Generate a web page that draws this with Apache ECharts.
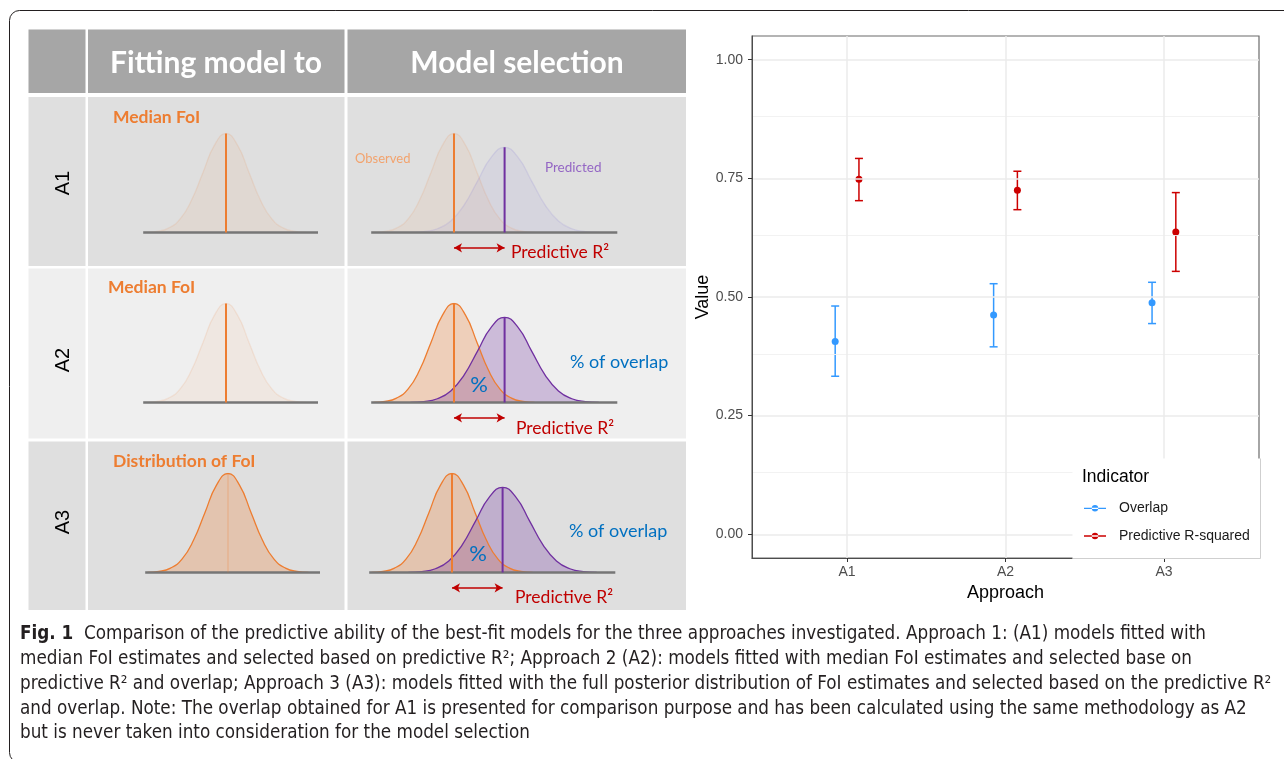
<!DOCTYPE html>
<html>
<head>
<meta charset="utf-8">
<script src="https://cdn.jsdelivr.net/npm/echarts@6/dist/echarts.min.js"></script>
<style>
  html, body { margin: 0; padding: 0; background: #fff; }
  #chart { width: 1284px; height: 759px; }
</style>
</head>
<body>
<div id="chart"></div>
<script>
// ---- right panel: indicator values per approach ----
const approaches = ['A1', 'A2', 'A3'];
const yTicks = [0, 0.25, 0.5, 0.75, 1];
const yMinorTicks = [0.125, 0.375, 0.625, 0.875];
const overlapMean = [0.406, 0.462, 0.488];
const overlapLow = [0.333, 0.395, 0.444];
const overlapHigh = [0.481, 0.528, 0.531];
const r2Mean = [0.748, 0.725, 0.637];
const r2Low = [0.703, 0.684, 0.554];
const r2High = [0.792, 0.765, 0.720];

// ---- left panel: schematic distributions ----
const headers = ['Fitting model to', 'Model selection'];
const rowLabels = ['A1', 'A2', 'A3'];
const fitLabels = ['Median FoI', 'Median FoI', 'Distribution of FoI'];
// bell profile (height relative to peak, x in sd)
const bellZ = [-3.5, -3, -2.5, -2, -1.5, -1, -0.5, 0, 0.5, 1, 1.5, 2, 2.5, 3, 3.5];
const bellShape = [0.002, 0.011, 0.044, 0.135, 0.325, 0.607, 0.882, 1, 0.882, 0.607, 0.325, 0.135, 0.044, 0.011, 0.002];
const predictedShift = 2.2;   // predicted median vs observed median
const predictedSpread = 1.17;
const predictedPeak = 0.86;

const captionLines = [
  '{b|Fig. 1}  Comparison of the predictive ability of the best-fit models for the three approaches investigated. Approach 1: (A1) models fitted with',
  'median FoI estimates and selected based on predictive R²; Approach 2 (A2): models fitted with median FoI estimates and selected base on',
  'predictive R² and overlap; Approach 3 (A3): models fitted with the full posterior distribution of FoI estimates and selected based on the predictive R²',
  'and overlap. Note: The overlap obtained for A1 is presented for comparison purpose and has been calculated using the same methodology as A2',
  'but is never taken into consideration for the model selection'
];

const BLUE = '#3399ff';
const RED = '#cc0000';
const ORANGE = '#ed7d31';
const PURPLE = '#7030a0';
const DARKRED = '#c00000';
const SANS = '"Liberation Sans", Arial, sans-serif';
const DIAG = 'Lato, "Open Sans", sans-serif';
const CAP = '"DejaVu Sans Condensed", "Liberation Sans Narrow", "Liberation Sans", sans-serif';

const chart = echarts.init(document.getElementById('chart'), null, { renderer: 'canvas' });

// fit caption font size to the line widths of the original
const measureCtx = document.createElement('canvas').getContext('2d');
function lineWidthAt(line, size) {
  let w = 0;
  let rest = line;
  const m = line.match(/^\{b\|(.*?)\}/);
  if (m) {
    measureCtx.font = 'bold ' + size + 'px ' + CAP;
    w += measureCtx.measureText(m[1]).width;
    rest = line.slice(m[0].length);
  }
  measureCtx.font = size + 'px ' + CAP;
  return w + measureCtx.measureText(rest).width;
}
const captionRight = [1211, 1106, 1277, 1238, 538];
const captionY = [634, 659, 684, 709, 733];
const fitLines = [0, 2, 3];
const captionSize = fitLines.reduce((s, i) => s + 100 * (captionRight[i] - 20) / lineWidthAt(captionLines[i], 100), 0) / fitLines.length;

function errorBar(params, api) {
  const x = api.value(0);
  const lo = api.coord([x, api.value(1)]);
  const hi = api.coord([x, api.value(2)]);
  const cap = 4;
  const style = { stroke: api.visual('color'), lineWidth: 1.5 };
  return {
    type: 'group',
    children: [
      { type: 'line', shape: { x1: lo[0], y1: lo[1], x2: hi[0], y2: hi[1] }, style },
      { type: 'line', shape: { x1: lo[0] - cap, y1: lo[1], x2: lo[0] + cap, y2: lo[1] }, style },
      { type: 'line', shape: { x1: hi[0] - cap, y1: hi[1], x2: hi[0] + cap, y2: hi[1] }, style }
    ]
  };
}

const dodge = 0.075;
const grids = [{ left: 752, top: 36, right: 25, bottom: 201 }];
const xAxes = [{
  type: 'value', min: 0.4, max: 3.6, gridIndex: 0, z: 6,
  name: 'Approach', nameLocation: 'middle', nameGap: 25,
  nameTextStyle: { fontSize: 18, color: '#000', fontFamily: SANS },
  axisLine: { show: true, onZero: false, lineStyle: { color: '#4d4d4d', width: 1 } },
  axisTick: { show: true, length: 4, customValues: [1, 2, 3], lineStyle: { color: '#333' } },
  axisLabel: { customValues: [1, 2, 3], formatter: v => approaches[Math.round(v) - 1] || '',
    color: '#4d4d4d', fontSize: 14, margin: 7, fontFamily: SANS },
  splitLine: { show: false }
}];
const yAxes = [{
  type: 'value', min: -0.05, max: 1.05, gridIndex: 0, z: 6,
  name: 'Value', nameLocation: 'middle', nameGap: 40, nameRotate: 90,
  nameTextStyle: { fontSize: 18, color: '#000', fontFamily: SANS },
  axisLine: { show: true, onZero: false, lineStyle: { color: '#4d4d4d', width: 1 } },
  axisTick: { show: true, length: 4, customValues: yTicks, lineStyle: { color: '#333' } },
  axisLabel: { customValues: yTicks, formatter: v => v.toFixed(2),
    color: '#4d4d4d', fontSize: 14, margin: 9, fontFamily: SANS },
  splitLine: { show: false }
}];

const gridLine = (w, c) => ({ width: w, color: c, type: 'solid' });
const series = [
  {
    type: 'line', name: 'gridlines', data: [], z: 1, silent: true, xAxisIndex: 0, yAxisIndex: 0,
    markLine: {
      silent: true, symbol: 'none', animation: false, label: { show: false },
      emphasis: { disabled: true },
      data: [
        ...yTicks.map(v => ({ yAxis: v, lineStyle: gridLine(1.6, '#ebebeb') })),
        ...yMinorTicks.map(v => ({ yAxis: v, lineStyle: gridLine(0.9, '#f0f0f0') })),
        ...approaches.map((a, i) => ({ xAxis: i + 1, lineStyle: gridLine(1.5, '#ebebeb') }))
      ]
    }
  },
  {
    type: 'custom', name: 'Overlap CI', renderItem: errorBar, z: 3,
    itemStyle: { color: BLUE },
    data: approaches.map((a, i) => [i + 1 - dodge, overlapLow[i], overlapHigh[i]])
  },
  {
    type: 'custom', name: 'R2 CI', renderItem: errorBar, z: 3,
    itemStyle: { color: RED },
    data: approaches.map((a, i) => [i + 1 + dodge, r2Low[i], r2High[i]])
  },
  {
    type: 'scatter', name: 'Overlap', symbolSize: 7, z: 4,
    itemStyle: { color: BLUE, opacity: 1 },
    data: approaches.map((a, i) => [i + 1 - dodge, overlapMean[i]])
  },
  {
    type: 'scatter', name: 'Predictive R-squared', symbolSize: 7, z: 4,
    itemStyle: { color: RED, opacity: 1 },
    data: approaches.map((a, i) => [i + 1 + dodge, r2Mean[i]])
  }
];

// ---- schematic cells ----
const SD_PX = 23, PEAK_PX = 99;
const rowBase = [232.5, 402.5, 572.5];
const fitCenter = [226, 226, 228];
const selCenter = [454, 454, 452];
const faintObs = { fill: 'rgba(237,125,49,0.07)', line: 'rgba(237,125,49,0.12)' };
const strongObs = { fill: 'rgba(237,125,49,0.28)', line: ORANGE };
const faintPred = { fill: 'rgba(140,130,215,0.10)', line: 'rgba(140,130,215,0.18)' };
const strongPred = { fill: 'rgba(112,48,160,0.27)', line: PURPLE };
const fitStyles = [faintObs, faintObs, strongObs];
const selStyles = [[faintObs, faintPred], [strongObs, strongPred], [strongObs, strongPred]];

function bellData(shift, spread, peak) {
  return bellZ.map((z, i) => [shift + z * spread, bellShape[i] * peak]);
}
function addCell(left, top, xMin, xMax) {
  grids.push({ left: left, top: top, width: (xMax - xMin) * SD_PX, height: 1.3 * PEAK_PX });
  const gi = grids.length - 1;
  xAxes.push({ type: 'value', gridIndex: gi, min: xMin, max: xMax, show: false });
  yAxes.push({ type: 'value', gridIndex: gi, min: -0.3, max: 1, show: false });
  return gi;
}
function curve(gi, data, st, z) {
  return {
    type: 'line', xAxisIndex: gi, yAxisIndex: gi, data: data, smooth: true, symbol: 'none',
    silent: true, z: z,
    lineStyle: { color: st.line, width: 1.3 },
    areaStyle: { color: st.fill, opacity: 1 }
  };
}
function segment(gi, data, color, width, z) {
  return {
    type: 'line', xAxisIndex: gi, yAxisIndex: gi, data: data, symbol: 'none', silent: true, z: z,
    lineStyle: { color: color, width: width }
  };
}

for (let r = 0; r < 3; r++) {
  // fitting column
  let gi = addCell(fitCenter[r] - 4 * SD_PX, rowBase[r] - PEAK_PX, -4, 4);
  series.push(curve(gi, bellData(0, 1, 1), fitStyles[r], 2));
  series.push(segment(gi, [[-3.6, 0], [4.0, 0]], '#767676', 2.5, 3));
  series.push(segment(gi, [[0, 0], [0, 1]], r === 2 ? 'rgba(237,125,49,0.18)' : ORANGE, 2, 4));

  // model selection column
  gi = addCell(selCenter[r] - 4 * SD_PX, rowBase[r] - PEAK_PX, -4, 8);
  series.push(curve(gi, bellData(0, 1, 1), selStyles[r][0], 2));
  series.push(curve(gi, bellData(predictedShift, predictedSpread, predictedPeak), selStyles[r][1], 2));
  series.push(segment(gi, [[-3.6, 0], [7.1, 0]], '#767676', 2.5, 3));
  series.push(segment(gi, [[predictedShift, 0], [predictedShift, predictedPeak]], PURPLE, 2, 4));
  const med = segment(gi, [[0, 0], [0, 1]], ORANGE, 2, 4);
  med.markLine = {
    silent: true, animation: false, symbol: ['arrow', 'arrow'], symbolSize: [7, 8],
    label: { show: false }, emphasis: { disabled: true },
    lineStyle: { color: DARKRED, width: 1.5, type: 'solid' },
    data: [[{ coord: [0, -0.155] }, { coord: [predictedShift, -0.155] }]]
  };
  series.push(med);
}

// ---- graphic: table, labels, caption, frames ----
const g = [];
const colX = [[28.5, 85.5], [88, 344.5], [347.5, 686]];
const rowY = [[29.5, 93], [97, 266], [268.5, 438.5], [441.5, 610]];
const rowFill = ['#a6a6a6', '#dfdfdf', '#efefef', '#dfdfdf'];
rowY.forEach((ry, ri) => {
  colX.forEach(cx => {
    g.push({ type: 'rect', z: 0, silent: true,
      shape: { x: cx[0], y: ry[0], width: cx[1] - cx[0], height: ry[1] - ry[0] },
      style: { fill: rowFill[ri] } });
  });
});
function txt(text, x, y, opt) {
  g.push(Object.assign({ type: 'text', x: x, y: y, z: 70, silent: true,
    style: Object.assign({ text: text, fontFamily: DIAG, verticalAlign: 'middle', align: 'left' }, opt.style) },
    opt.el || {}));
}
txt(headers[0], 216, 63, { style: { fontSize: 30, fontWeight: 'bold', fill: '#fff', align: 'center' } });
txt(headers[1], 517, 63, { style: { fontSize: 30, fontWeight: 'bold', fill: '#fff', align: 'center' } });
const rowLabelY = [183, 360, 522];
rowLabels.forEach((l, i) => txt(l, 63, rowLabelY[i],
  { style: { fontSize: 20, fontFamily: SANS, fill: '#000', align: 'center' }, el: { rotation: Math.PI / 2 } }));
const fitLabelPos = [[113, 117], [108, 287], [113, 461]];
fitLabels.forEach((l, i) => txt(l, fitLabelPos[i][0], fitLabelPos[i][1],
  { style: { fontSize: 17.5, fontWeight: 'bold', fill: ORANGE } }));
txt('Observed', 355, 159, { style: { fontSize: 13, fill: '#f2a36e' } });
txt('Predicted', 545, 168, { style: { fontSize: 13.5, fill: '#9466c4' } });
[[479, 385], [478, 554]].forEach(p => txt('%', p[0], p[1], { style: { fontSize: 22, fill: '#0070c0', align: 'center' } }));
[[570, 362], [569, 531]].forEach(p => txt('% of overlap', p[0], p[1], { style: { fontSize: 18, fill: '#0070c0' } }));
[[511, 252.5], [516, 428], [515, 597.5]].forEach(p => txt('Predictive R²', p[0], p[1], { style: { fontSize: 17.5, fill: DARKRED } }));

// right panel frame + legend box
g.push({ type: 'rect', z: 5, silent: true, shape: { x: 752, y: 36, width: 507, height: 522 },
  style: { fill: null, stroke: '#6b6b6b', lineWidth: 1.2 } });
g.push({ type: 'rect', z: 50, silent: true, shape: { x: 1072.5, y: 458.5, width: 188, height: 100 },
  style: { fill: '#fff' } });
g.push({ type: 'polyline', z: 51, silent: true,
  shape: { points: [[1260.5, 458.5], [1260.5, 558.5], [1072.5, 558.5]] },
  style: { fill: null, stroke: '#cfcfcf', lineWidth: 1 } });
g.push({ type: 'text', x: 1082, y: 477.5, z: 61, silent: true,
  style: { text: 'Indicator', fontSize: 17.5, fontFamily: SANS, fill: '#000', verticalAlign: 'middle' } });

// caption
captionLines.forEach((line, i) => {
  g.push({ type: 'text', x: 20, y: captionY[i], z: 70, silent: true,
    style: { text: line, fontSize: captionSize, fontFamily: CAP, fill: '#231f20', verticalAlign: 'middle',
      rich: { b: { fontWeight: 'bold', fontSize: captionSize, fontFamily: CAP, fill: '#231f20' } } } });
});

// outer figure border
g.push({ type: 'rect', z: 100, silent: true, shape: { x: 9.5, y: 10.5, width: 1300, height: 752, r: 10 },
  style: { fill: null, stroke: '#231f20', lineWidth: 1 } });

const option = {
  animation: false,
  backgroundColor: '#fff',
  textStyle: { fontFamily: SANS },
  grid: grids,
  xAxis: xAxes,
  yAxis: yAxes,
  legend: {
    data: ['Overlap', 'Predictive R-squared'],
    orient: 'vertical', left: 1084, top: 501.3, z: 60, padding: 0,
    itemWidth: 22, itemHeight: 7, itemGap: 13.7, selectedMode: false,
    icon: 'path://M0 2.8H24V4.2H0Z M8.5 3.5A3.5 3.5 0 1 0 15.5 3.5A3.5 3.5 0 1 0 8.5 3.5Z',
    textStyle: { fontSize: 14, color: '#1a1a1a', fontFamily: SANS, padding: [0, 0, 0, 8] }
  },
  series: series,
  graphic: { elements: g }
};

chart.setOption(option);
window.addEventListener('resize', () => chart.resize());
</script>
</body>
</html>
